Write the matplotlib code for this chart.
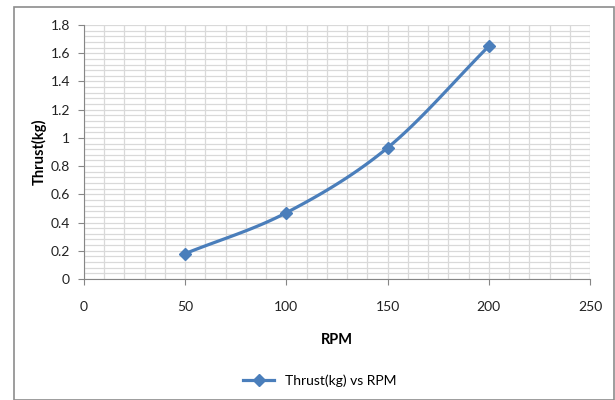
import numpy as np
import matplotlib
matplotlib.use("Agg")
import matplotlib.pyplot as plt
from matplotlib.patches import Rectangle
from matplotlib.ticker import MultipleLocator

rpm = [50, 100, 150, 200]
thrust = [0.18, 0.47, 0.93, 1.65]
series_label = "Thrust(kg) vs RPM"
x_label = "RPM"
y_label = "Thrust(kg)"

plt.rcParams['font.family'] = ['Lato', 'DejaVu Sans']

def smooth(xs, ys, n=40):
    # Bezier smoothing similar to Excel's smoothed line
    xs = np.asarray(xs, float); ys = np.asarray(ys, float)
    px = np.concatenate([[2*xs[0]-xs[1]], xs, [2*xs[-1]-xs[-2]]])
    py = np.concatenate([[2*ys[0]-ys[1]], ys, [2*ys[-1]-ys[-2]]])
    ox, oy = [], []
    for i in range(1, len(px)-2):
        t = np.linspace(0, 1, n)
        p0x, p1x, p2x, p3x = px[i-1:i+3]
        p0y, p1y, p2y, p3y = py[i-1:i+3]
        c1x = p1x + (p2x - p0x) / 6; c1y = p1y + (p2y - p0y) / 6
        c2x = p2x - (p3x - p1x) / 6; c2y = p2y - (p3y - p1y) / 6
        bx = (1-t)**3*p1x + 3*(1-t)**2*t*c1x + 3*(1-t)*t**2*c2x + t**3*p2x
        by = (1-t)**3*p1y + 3*(1-t)**2*t*c1y + 3*(1-t)*t**2*c2y + t**3*p2y
        ox.append(bx); oy.append(by)
    return np.concatenate(ox), np.concatenate(oy)

fig = plt.figure(figsize=(6.15, 4.0), dpi=100)
fig.patches.append(Rectangle((14/615, 0), 600/615, 393/400, transform=fig.transFigure,
                             fill=False, edgecolor='#8c8c8c', linewidth=1.2))
ax = fig.add_axes([84/615, 1-279/400, (590-84)/615, (279-25)/400])

sx, sy = smooth(rpm, thrust)
color = '#4a7ebb'
ax.plot(sx, sy, color=color, linewidth=2.3, solid_capstyle='round', zorder=3)
ax.plot(rpm, thrust, linestyle='none', marker='D', markersize=6, color=color, zorder=4)
ax.plot([], [], color=color, linewidth=2.3, marker='D', markersize=6, label=series_label)

ax.set_xlim(0, 250)
ax.set_ylim(0, 1.8)
ax.xaxis.set_major_locator(MultipleLocator(50))
ax.xaxis.set_minor_locator(MultipleLocator(10))
ax.yaxis.set_minor_locator(MultipleLocator(0.04))
ax.set_yticks(np.arange(0, 1.81, 0.2))
ax.set_yticklabels(['0', '0.2', '0.4', '0.6', '0.8', '1', '1.2', '1.4', '1.6', '1.8'])
ax.grid(which='both', color='#d9d9d9', linewidth=0.9)
ax.set_axisbelow(True)
for s in ['top', 'right']:
    ax.spines[s].set_visible(False)
for s in ['left', 'bottom']:
    ax.spines[s].set_color('#868686')
ax.tick_params(which='major', length=4, color='#868686', labelsize=10, labelcolor='#222222')
ax.tick_params(which='minor', length=0)
ax.tick_params(axis='x', pad=12)
ax.tick_params(axis='y', pad=6)
ax.set_xlabel(x_label, fontsize=10.5, fontweight='bold', labelpad=14)
ax.set_ylabel(y_label, fontsize=10.5, fontweight='bold', labelpad=3)
fig.legend(loc='center', bbox_to_anchor=(320/615, 1-381/400), frameon=False, fontsize=10,
           handlelength=2.2)
fig.savefig('out.png', dpi=100)
